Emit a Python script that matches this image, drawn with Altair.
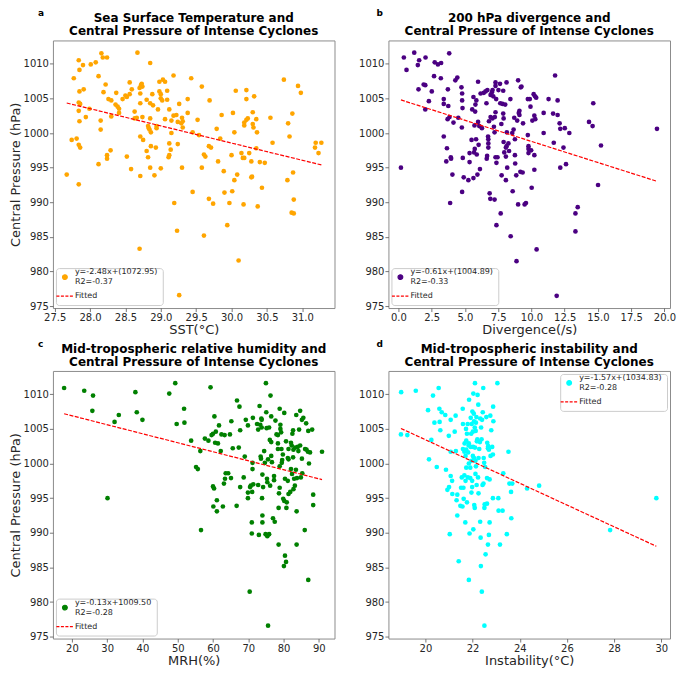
import altair as alt
import pandas as pd

# ---- data (x, central pressure in hPa) ----
sst_points = [
    (27.67, 994.0), (27.74, 999.0), (27.77, 1007.9), (27.81, 999.2), (27.84, 1010.5), (27.85, 1009.1),
    (27.85, 1006.0), (27.84, 1004.4), (27.86, 1004.2), (27.84, 1003.2), (27.85, 1001.7), (27.84, 998.3),
    (27.86, 997.9), (27.84, 992.6), (27.90, 1009.8), (27.91, 1006.3), (27.94, 1002.3), (27.99, 1003.5),
    (28.01, 1009.9), (28.08, 1010.2), (28.12, 1008.2), (28.12, 995.5), (28.15, 1001.8), (28.15, 1000.5),
    (28.16, 1011.5), (28.18, 1010.9), (28.19, 1005.9), (28.22, 1007.0), (28.24, 1010.9), (28.24, 996.8),
    (28.24, 996.3), (28.26, 1004.9), (28.29, 997.5), (28.30, 1002.4), (28.30, 1004.7), (28.36, 1004.1),
    (28.37, 1005.8), (28.39, 1003.8), (28.41, 1003.5), (28.41, 1002.9), (28.46, 1004.9), (28.50, 1005.4),
    (28.52, 1005.2), (28.52, 996.6), (28.56, 1007.3), (28.56, 1005.6), (28.58, 994.8), (28.59, 1006.3),
    (28.63, 1003.1), (28.63, 1002.1), (28.66, 1002.2), (28.67, 1011.6), (28.70, 1006.5), (28.71, 1005.7),
    (28.72, 1006.9), (28.73, 1007.1), (28.74, 1006.7), (28.71, 1004.3), (28.74, 1002.3), (28.71, 999.5),
    (28.75, 999.0), (28.71, 993.8), (28.70, 983.3), (28.80, 1004.8), (28.82, 1001.0), (28.83, 1000.7),
    (28.85, 1004.3), (28.85, 1010.1), (28.85, 1002.1), (28.84, 1000.5), (28.86, 1000.1), (28.86, 998.1),
    (28.85, 995.0), (28.80, 997.4), (28.82, 996.5), (28.88, 1005.6), (28.89, 1004.0), (28.91, 993.9),
    (28.93, 997.9), (28.94, 1000.7), (28.94, 1001.0), (28.96, 1003.4), (28.98, 1007.4), (28.98, 1006.0),
    (29.00, 1005.6), (29.00, 1005.0), (29.02, 1004.7), (29.00, 994.9), (29.03, 1007.7), (29.06, 1007.4),
    (29.06, 1002.0), (29.09, 1006.1), (29.09, 1004.8), (29.12, 1003.4), (29.12, 998.5), (29.11, 996.5),
    (29.12, 996.8), (29.15, 1000.0), (29.15, 1001.8), (29.14, 997.6), (29.18, 1008.3), (29.18, 1002.5),
    (29.19, 989.9), (29.22, 1002.6), (29.24, 998.4), (29.24, 1001.6), (29.23, 985.9), (29.26, 1004.2),
    (29.26, 976.6), (29.29, 1001.4), (29.30, 1002.2), (29.31, 1000.8), (29.31, 1001.7), (29.30, 995.0),
    (29.38, 1004.9), (29.38, 1002.9), (29.43, 1007.9), (29.45, 1000.1), (29.45, 991.5), (29.52, 1001.9),
    (29.54, 999.7), (29.58, 1006.7), (29.58, 995.0), (29.61, 996.9), (29.63, 996.6), (29.61, 985.2),
    (29.68, 998.1), (29.69, 1004.7), (29.71, 997.9), (29.68, 990.5), (29.74, 989.8), (29.79, 1000.6),
    (29.81, 995.9), (29.84, 999.2), (29.86, 1002.6), (29.89, 994.5), (29.90, 991.4), (29.94, 986.7),
    (29.97, 989.9), (30.00, 996.8), (30.01, 991.6), (30.02, 1002.9), (30.04, 993.2), (30.04, 1000.1),
    (30.06, 1006.1), (30.08, 994.0), (30.10, 981.6), (30.14, 997.1), (30.16, 996.4), (30.17, 989.7),
    (30.18, 1001.1), (30.18, 1001.5), (30.18, 996.4), (30.21, 1006.2), (30.21, 1004.9), (30.21, 1001.9),
    (30.23, 1002.1), (30.25, 997.1), (30.28, 993.6), (30.28, 995.9), (30.29, 993.7), (30.30, 1003.0),
    (30.30, 1001.3), (30.31, 1000.8), (30.32, 1005.3), (30.35, 1002.0), (30.35, 997.8), (30.36, 1000.1),
    (30.37, 989.4), (30.40, 995.8), (30.43, 992.1), (30.47, 995.7), (30.55, 1002.2), (30.58, 998.6),
    (30.74, 1007.7), (30.79, 993.2), (30.80, 1001.4), (30.82, 999.5), (30.86, 1002.8), (30.87, 994.3),
    (30.88, 990.4), (30.85, 988.5), (30.88, 988.4), (30.94, 1006.8), (30.98, 1005.8), (31.19, 998.6),
    (31.18, 997.9), (31.23, 997.1), (31.27, 998.6),
]

div_points = [
    (0.19, 995.0), (0.41, 1010.9), (0.61, 1009.1), (1.19, 1011.6), (1.46, 1009.8), (1.56, 1010.5),
    (1.51, 1006.3), (1.90, 1007.0), (2.02, 1006.9), (2.04, 1010.9), (2.02, 1003.4), (2.29, 1004.6),
    (2.51, 1006.0), (2.68, 1008.2), (2.73, 1010.2), (2.97, 1009.9), (3.21, 1010.1), (3.19, 1007.9),
    (3.41, 1004.2), (3.41, 1004.9), (3.41, 999.5), (3.60, 995.9), (3.65, 997.8), (3.72, 1006.3),
    (3.75, 1003.9), (3.70, 1002.0), (3.82, 1011.5), (3.84, 1002.3), (3.89, 989.9), (3.94, 996.5),
    (3.96, 996.3), (4.06, 994.0), (4.14, 1001.5), (4.28, 1007.6), (4.43, 1008.0), (4.50, 1002.2),
    (4.74, 1006.6), (4.79, 1005.7), (4.79, 1004.7), (4.82, 1003.6), (4.77, 1000.8), (4.84, 996.4),
    (4.79, 991.5), (4.91, 993.6), (5.26, 993.2), (5.35, 995.8), (5.35, 997.1), (5.50, 999.0),
    (5.55, 1003.4), (5.64, 1005.2), (5.64, 993.5), (5.69, 997.2), (5.72, 1001.1), (5.74, 997.7),
    (5.77, 1003.1), (5.79, 1004.1), (5.84, 999.1), (5.86, 1004.7), (5.89, 996.9), (5.94, 994.0),
    (5.99, 1007.4), (5.99, 1001.6), (6.03, 998.3), (6.08, 1001.0), (6.13, 994.8), (6.18, 1005.7),
    (6.28, 1000.7), (6.42, 1005.8), (6.55, 1006.0), (6.62, 1004.3), (6.64, 996.3), (6.67, 996.7),
    (6.69, 1006.2), (6.74, 999.5), (6.76, 999.1), (6.76, 998.5), (6.76, 997.9), (6.81, 1001.7),
    (6.86, 991.3), (6.91, 990.5), (6.93, 1005.5), (6.93, 1002.3), (7.03, 1005.9), (7.06, 1002.1),
    (7.08, 1006.2), (7.13, 1005.3), (7.18, 1000.9), (7.23, 1000.1), (7.23, 990.4), (7.25, 1002.3),
    (7.30, 1007.3), (7.30, 1006.8), (7.30, 1003.0), (7.30, 996.5), (7.35, 1004.9), (7.37, 995.7),
    (7.37, 986.7), (7.45, 996.5), (7.52, 1006.2), (7.64, 1007.1), (7.66, 1004.3), (7.69, 988.4),
    (7.74, 1001.3), (7.76, 993.9), (7.83, 1004.2), (7.88, 1006.1), (7.88, 1002.8), (7.91, 1002.1),
    (7.91, 998.7), (7.96, 997.2), (8.03, 1004.1), (8.08, 997.9), (8.08, 996.6), (8.08, 993.2),
    (8.13, 1007.3), (8.13, 998.1), (8.15, 1000.1), (8.18, 995.0), (8.27, 998.5), (8.32, 997.4),
    (8.42, 1004.9), (8.44, 985.1), (8.56, 1000.0), (8.59, 991.6), (8.66, 1000.5), (8.71, 1002.2),
    (8.76, 999.1), (8.76, 996.8), (8.78, 995.6), (8.86, 993.9), (8.88, 981.5), (8.93, 1001.8),
    (9.00, 1007.6), (9.00, 989.7), (9.05, 1002.9), (9.10, 1003.2), (9.10, 1002.6), (9.17, 994.4),
    (9.20, 1006.6), (9.25, 1006.7), (9.34, 994.3), (9.37, 1001.4), (9.49, 989.7), (9.59, 989.9),
    (9.73, 999.7), (9.73, 1004.9), (9.78, 998.1), (9.78, 997.7), (9.78, 997.1), (9.88, 1004.9),
    (9.93, 1003.8), (9.98, 997.5), (10.02, 992.1), (10.07, 1001.8), (10.17, 1005.6), (10.22, 1002.5),
    (10.27, 1005.3), (10.22, 996.8), (10.22, 994.7), (10.29, 1002.0), (10.36, 1005.1), (10.39, 983.2),
    (10.92, 1002.9), (10.92, 1000.0), (11.29, 1004.9), (11.63, 1002.8), (11.68, 998.6), (11.78, 1008.3),
    (11.90, 976.5), (11.97, 1002.6), (11.97, 1004.7), (12.12, 1001.4), (12.17, 995.0), (12.17, 1000.6),
    (12.41, 997.9), (12.51, 1000.7), (12.60, 995.5), (12.85, 1000.0), (13.31, 988.4), (13.31, 985.8),
    (13.48, 989.3), (14.33, 1001.6), (14.60, 1001.0), (14.65, 1004.3), (15.01, 992.5), (15.23, 998.2),
    (19.44, 1000.6),
]

mrh_points = [
    (17.8, 1010.9), (23.5, 1010.5), (26.0, 1009.8), (25.8, 1007.6), (30.1, 995.0), (32.1, 1006.0),
    (33.3, 1007.0), (38.0, 1010.3), (38.4, 1007.4), (40.0, 1006.3), (47.6, 1010.1), (49.3, 1011.6),
    (49.7, 1005.7), (51.8, 1007.9), (51.9, 1005.9), (53.8, 1003.3), (55.2, 999.5), (55.7, 999.2),
    (56.4, 1001.8), (56.6, 990.4), (57.7, 1003.6), (58.7, 1003.3), (59.3, 1011.0), (59.6, 1004.1),
    (60.0, 1004.3), (60.0, 996.7), (60.3, 996.4), (60.1, 993.8), (60.4, 1006.8), (60.6, 1003.0),
    (60.8, 1004.6), (61.1, 994.7), (61.1, 993.1), (61.4, 1002.9), (61.7, 1005.5), (62.2, 1001.8),
    (62.4, 1004.2), (62.8, 993.8), (63.1, 997.1), (63.3, 1004.1), (63.4, 997.8), (63.6, 998.6),
    (64.3, 998.6), (64.8, 1004.2), (65.1, 997.9), (65.2, 1006.1), (65.6, 1002.2), (66.7, 993.9),
    (66.8, 1009.1), (67.3, 1002.3), (67.5, 1008.2), (67.7, 1004.8), (67.7, 996.6), (68.7, 998.0),
    (69.0, 1001.0), (69.3, 1006.3), (69.9, 995.8), (69.9, 995.0), (69.9, 1005.5), (70.4, 981.5),
    (70.5, 996.6), (70.7, 996.8), (71.0, 991.5), (71.0, 989.9), (71.1, 995.9), (71.2, 999.2),
    (71.2, 1000.1), (71.3, 1006.6), (71.4, 997.0), (72.5, 1005.7), (72.8, 1004.9), (72.8, 996.9),
    (73.0, 989.7), (73.2, 1008.3), (73.4, 1005.6), (73.5, 1001.0), (73.6, 1000.7), (73.7, 1006.5),
    (73.8, 1006.3), (73.8, 1005.2), (73.9, 995.0), (74.0, 998.4), (74.0, 992.5), (74.0, 991.5),
    (74.2, 996.6), (74.5, 1001.8), (74.7, 1000.1), (74.9, 989.8), (75.0, 1011.6), (75.1, 1007.4),
    (75.2, 1005.1), (75.3, 997.8), (75.4, 989.5), (75.4, 997.3), (75.6, 1000.6), (75.6, 976.6),
    (75.9, 989.8), (75.9, 1005.2), (76.1, 1003.4), (76.2, 996.8), (76.3, 1009.8), (76.5, 1006.8),
    (76.5, 1003.1), (76.5, 1001.1), (76.7, 1000.2), (77.0, 992.1), (77.3, 998.2), (77.3, 997.6),
    (77.5, 991.6), (77.7, 1006.2), (78.0, 1004.2), (78.4, 1004.1), (78.4, 1002.9), (78.4, 1002.1),
    (78.6, 988.3), (78.6, 993.6), (78.7, 995.7), (78.9, 1007.9), (78.9, 999.6), (78.9, 996.5),
    (79.1, 1005.6), (79.1, 1005.0), (79.3, 1004.5), (79.4, 1002.1), (79.5, 1000.1), (79.6, 1000.5),
    (79.8, 1001.3), (79.9, 994.9), (80.1, 985.2), (80.2, 1007.3), (80.2, 994.6), (80.4, 997.8),
    (80.4, 986.7), (80.7, 985.8), (80.7, 1003.2), (80.8, 993.6), (80.9, 994.4), (81.2, 997.5),
    (81.2, 1000.8), (81.4, 1002.1), (81.4, 1000.6), (81.4, 995.6), (81.9, 995.9), (82.1, 1003.0),
    (82.1, 999.2), (82.3, 1002.6), (82.4, 998.5), (82.5, 1004.3), (82.7, 1000.9), (82.7, 1004.8),
    (82.8, 1002.0), (82.8, 996.3), (83.0, 997.8), (83.2, 996.8), (83.3, 1002.3), (83.5, 999.1),
    (83.6, 1007.0), (83.7, 993.1), (83.7, 988.3), (83.8, 997.9), (84.0, 1002.4), (84.2, 1001.8),
    (84.4, 1004.9), (84.7, 1007.6), (84.7, 1002.6), (84.9, 998.0), (85.2, 1006.3), (85.2, 1000.7),
    (85.3, 998.6), (85.6, 1006.6), (86.0, 990.4), (86.1, 1002.1), (86.4, 1005.8), (86.5, 1002.0),
    (86.9, 1001.7), (87.0, 1004.7), (87.0, 983.2), (87.2, 1000.0), (87.5, 1001.6), (88.1, 1004.9),
    (88.4, 995.5), (88.4, 994.0), (90.9, 1001.7),
]

ins_points = [
    (18.97, 1010.3), (18.96, 1004.2), (19.23, 1004.1), (19.59, 1010.5), (20.11, 1007.7), (20.15, 1000.6),
    (20.25, 1003.4), (20.32, 1009.8), (20.38, 1005.9), (20.48, 999.5), (20.56, 1010.9), (20.59, 1007.9),
    (20.60, 1006.0), (20.63, 1004.8), (20.69, 1007.4), (20.84, 1007.0), (20.87, 999.1), (20.93, 996.2),
    (20.99, 1004.0), (21.00, 996.6), (21.03, 989.8), (21.07, 1006.3), (21.07, 998.2), (21.07, 1001.7),
    (21.13, 997.5), (21.14, 995.6), (21.24, 1004.6), (21.28, 1006.9), (21.29, 1001.8), (21.32, 994.7),
    (21.35, 995.5), (21.35, 992.5), (21.41, 985.9), (21.48, 993.9), (21.51, 996.5), (21.54, 998.0),
    (21.57, 993.8), (21.58, 1007.9), (21.59, 1005.7), (21.59, 1002.1), (21.61, 996.5), (21.62, 994.9),
    (21.65, 1001.7), (21.65, 998.3), (21.66, 1002.9), (21.69, 991.5), (21.70, 1001.1), (21.70, 997.5),
    (21.72, 1005.0), (21.73, 1003.3), (21.73, 1002.0), (21.73, 999.4), (21.76, 1004.3), (21.76, 994.4),
    (21.79, 1005.7), (21.80, 998.0), (21.81, 1001.6), (21.83, 1002.6), (21.84, 1002.9), (21.84, 1000.0),
    (21.84, 983.2), (21.85, 1009.2), (21.87, 989.9), (21.90, 997.9), (21.90, 999.4), (21.92, 1006.6),
    (21.92, 1002.4), (21.94, 1004.3), (21.95, 1000.4), (21.95, 995.8), (21.96, 1005.7), (21.98, 997.5),
    (21.98, 996.6), (21.99, 1007.5), (22.01, 1001.1), (22.01, 1004.6), (22.02, 1002.4), (22.03, 1010.1),
    (22.03, 990.5), (22.05, 1007.2), (22.06, 1006.1), (22.06, 1000.8), (22.07, 994.0), (22.09, 993.6),
    (22.09, 1005.2), (22.10, 1011.6), (22.10, 1002.3), (22.12, 1000.4), (22.12, 998.5), (22.13, 1004.7),
    (22.14, 1005.9), (22.14, 999.6), (22.16, 1006.7), (22.17, 996.9), (22.18, 1003.2), (22.20, 1003.5),
    (22.21, 1009.9), (22.23, 998.0), (22.24, 1008.5), (22.25, 995.7), (22.25, 1000.8), (22.28, 1002.1),
    (22.31, 1003.1), (22.32, 1006.5), (22.32, 991.6), (22.34, 989.3), (22.35, 985.2), (22.36, 1005.2),
    (22.38, 1003.5), (22.39, 981.5), (22.40, 1006.3), (22.42, 996.9), (22.43, 1007.4), (22.45, 1010.9),
    (22.46, 997.1), (22.47, 1000.8), (22.49, 1000.1), (22.50, 993.6), (22.51, 994.1), (22.50, 976.6),
    (22.53, 999.5), (22.55, 986.9), (22.58, 1006.7), (22.61, 997.9), (22.61, 994.2), (22.62, 1003.0),
    (22.65, 1002.2), (22.65, 988.3), (22.66, 1002.5), (22.69, 989.7), (22.69, 1002.0), (22.72, 991.5),
    (22.72, 997.7), (22.75, 1006.9), (22.76, 1001.1), (22.79, 1004.8), (22.83, 1002.4), (22.86, 1001.3),
    (22.86, 995.0), (22.87, 1008.2), (22.88, 1006.1), (23.05, 1011.6), (23.09, 995.0), (23.10, 993.2),
    (23.16, 988.3), (23.27, 993.2), (23.30, 998.6), (23.45, 989.8), (23.52, 1001.7), (23.56, 997.1),
    (23.63, 995.9), (23.64, 992.1), (23.68, 997.1), (24.31, 996.4), (24.82, 996.8), (27.83, 990.4),
    (29.79, 995.0),
]

letters = ["a", "b", "c", "d"]
titles = [
    ["Sea Surface Temperature and", "Central Pressure of Intense Cyclones"],
    ["200 hPa divergence and", "Central Pressure of Intense Cyclones"],
    ["Mid-tropospheric relative humidity and", "Central Pressure of Intense Cyclones"],
    ["Mid-tropospheric instability and", "Central Pressure of Intense Cyclones"],
]
x_titles = ["SST(°C)", "Divergence(/s)", "MRH(%)", "Instability(°C)"]
point_colors = ["#FFA500", "#4B0082", "#008000", "#00FFFF"]
slopes = [-2.48, -0.61, -0.13, -1.57]
intercepts = [1072.95, 1004.89, 1009.50, 1034.83]
eq_labels = ["y=-2.48x+(1072.95)", "y=-0.61x+(1004.89)", "y=-0.13x+1009.50", "y=-1.57x+(1034.83)"]
r2_labels = ["R2=-0.37", "R2=-0.33", "R2=-0.28", "R2=-0.28"]
x_domains = [[27.475, 31.456], [-0.75, 20.42], [14.63, 94.44], [18.43, 30.37]]
x_ticks = [
    [27.5, 28.0, 28.5, 29.0, 29.5, 30.0, 30.5, 31.0],
    [0.0, 2.5, 5.0, 7.5, 10.0, 12.5, 15.0, 17.5, 20.0],
    [20, 30, 40, 50, 60, 70, 80, 90],
    [20, 22, 24, 26, 28, 30],
]
x_formats = [".1f", ".1f", "d", "d"]
legend_orients = ["bottom-left", "bottom-left", "bottom-left", "top-right"]
y_ticks = [975, 980, 985, 990, 995, 1000, 1005, 1010]
y_domain = [974.74, 1013.36]
letter_dx = [-15, -12, -15, -12]

W, H = 282, 268
FONT = "DejaVu Sans"
LETTER_Y = -31


def panel(i, points, show_ytitle):
    xs = [p[0] for p in points]
    ys = [p[1] for p in points]
    eq = eq_labels[i]
    df = pd.DataFrame({"x": xs, "y": ys, "series": eq})
    fit = pd.DataFrame({"x": [min(xs), max(xs)]})
    fit["y"] = slopes[i] * fit["x"] + intercepts[i]
    fit["series"] = "Fitted"

    cscale = alt.Scale(domain=[eq, "Fitted"], range=[point_colors[i], "red"])
    label_expr = f"datum.value == 'Fitted' ? 'Fitted' : ['{eq}', '{r2_labels[i]}']"
    is_fit = "datum.value == 'Fitted'"
    legend = alt.Legend(
        title=None, orient=legend_orients[i], direction="vertical", offset=3, padding=5,
        fillColor="white", strokeColor="#cccccc", cornerRadius=3,
        labelFont=FONT, labelFontSize=8, labelColor="#262626", labelLimit=0,
        labelOffset=6, rowPadding=6, labelExpr=label_expr,
        labelBaseline=alt.ExprRef(expr=f"{is_fit} ? 'middle' : 'line-bottom'"),
        symbolType=alt.ExprRef(expr=f"{is_fit} ? 'stroke' : 'circle'"),
        symbolSize=alt.ExprRef(expr=f"{is_fit} ? 290 : 22"),
        symbolDash=alt.ExprRef(expr=f"{is_fit} ? [3, 1.5] : [1, 0]"),
        symbolStrokeColor=alt.ExprRef(expr=f"{is_fit} ? 'red' : '{point_colors[i]}'"),
        symbolFillColor=alt.ExprRef(expr=f"{is_fit} ? 'transparent' : '{point_colors[i]}'"),
        symbolStrokeWidth=1.2,
        symbolOpacity=1,
    )
    xscale = alt.Scale(domain=x_domains[i], nice=False, zero=False)
    yscale = alt.Scale(domain=y_domain, nice=False, zero=False)
    xaxis = alt.Axis(title=x_titles[i], values=x_ticks[i], format=x_formats[i], labelOverlap=False)
    yaxis = alt.Axis(title="Central Pressure (hPa)" if show_ytitle else None,
                     values=y_ticks, format="d", labelOverlap=False)

    pts = alt.Chart(df).mark_circle(size=22, opacity=1).encode(
        x=alt.X("x:Q", scale=xscale, axis=xaxis),
        y=alt.Y("y:Q", scale=yscale, axis=yaxis),
        color=alt.Color("series:N", scale=cscale, legend=legend),
    )
    line = alt.Chart(fit).mark_line(strokeDash=[4, 1.5], strokeWidth=1.2).encode(
        x=alt.X("x:Q", scale=xscale, axis=xaxis),
        y=alt.Y("y:Q", scale=yscale, axis=yaxis),
        color=alt.Color("series:N", scale=cscale, legend=legend),
    )
    letter = alt.Chart(pd.DataFrame({"t": [letters[i]]})).mark_text(
        font=FONT, fontSize=9, fontWeight="bold", align="left", baseline="top", color="black"
    ).encode(text="t:N", x=alt.value(letter_dx[i]), y=alt.value(LETTER_Y))

    return alt.layer(pts, line, letter).properties(
        width=W, height=H,
        title=alt.TitleParams(
            text=titles[i], font=FONT, fontSize=12, fontWeight="bold", color="black",
            anchor="middle", offset=2, lineHeight=13, frame="group", dy=-LETTER_Y,
        ),
    )


pa = panel(0, sst_points, True)
pb = panel(1, div_points, False)
pc = panel(2, mrh_points, True)
pd_ = panel(3, ins_points, False)

chart = alt.vconcat(
    alt.hconcat(pa, pb, spacing=22).resolve_scale(color="independent"),
    alt.hconcat(pc, pd_, spacing=22).resolve_scale(color="independent"),
    spacing=2,
).resolve_scale(color="independent").properties(
    padding={"left": 0, "top": 0, "right": 0, "bottom": 0}
).configure(font=FONT).configure_view(
    stroke="#8c8c8c", strokeWidth=1
).configure_axis(
    grid=False, domain=False, tickColor="#555555", tickSize=3.5, tickWidth=0.8,
    labelFont=FONT, labelFontSize=10, labelColor="#262626", labelPadding=1,
    labelOverlap=False, labelBound=False,
    titleFont=FONT, titleFontSize=13, titleFontWeight="normal", titleColor="#262626",
    titlePadding=1,
)

chart.save("out.html", embed_options={"renderer": "svg", "actions": False})
